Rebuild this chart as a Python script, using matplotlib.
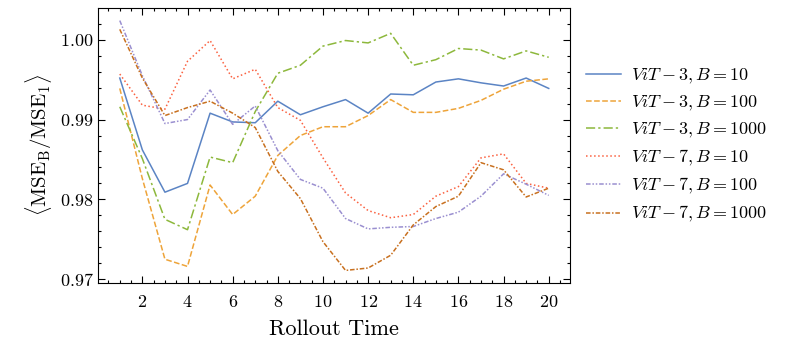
import matplotlib
matplotlib.use("Agg")
import matplotlib.pyplot as plt
from matplotlib.ticker import MultipleLocator, AutoMinorLocator

plt.rcParams['font.family'] = 'serif'
plt.rcParams['font.serif'] = ['cmr10']
plt.rcParams['mathtext.fontset'] = 'cm'
plt.rcParams['axes.formatter.use_mathtext'] = True
plt.rcParams['axes.unicode_minus'] = False

# rollout time steps
t = list(range(1, 21))

vit3_b10 = [0.9952, 0.9862, 0.9809, 0.9820, 0.9908, 0.9897, 0.9896, 0.9923, 0.9906, 0.9916,
            0.9925, 0.9908, 0.9932, 0.9931, 0.9947, 0.9951, 0.9946, 0.9942, 0.9952, 0.9939]
vit3_b100 = [0.9939, 0.9826, 0.9725, 0.9716, 0.9818, 0.9781, 0.9804, 0.9855, 0.9880, 0.9891,
             0.9891, 0.9905, 0.9925, 0.9909, 0.9909, 0.9914, 0.9924, 0.9938, 0.9948, 0.9951]
vit3_b1000 = [0.9916, 0.9851, 0.9775, 0.9762, 0.9853, 0.9846, 0.9910, 0.9958, 0.9968, 0.9992,
              0.9999, 0.9996, 1.0008, 0.9968, 0.9975, 0.9989, 0.9987, 0.9976, 0.9986, 0.9978]
vit7_b10 = [0.9957, 0.9918, 0.9913, 0.9973, 0.9999, 0.9951, 0.9963, 0.9915, 0.9899, 0.9852,
            0.9808, 0.9786, 0.9777, 0.9781, 0.9804, 0.9816, 0.9852, 0.9857, 0.9820, 0.9814]
vit7_b100 = [1.0024, 0.9955, 0.9895, 0.9900, 0.9937, 0.9894, 0.9917, 0.9861, 0.9825, 0.9814,
             0.9776, 0.9763, 0.9765, 0.9766, 0.9776, 0.9784, 0.9804, 0.9832, 0.9819, 0.9805]
vit7_b1000 = [1.0013, 0.9952, 0.9905, 0.9915, 0.9923, 0.9908, 0.9890, 0.9835, 0.9801, 0.9747,
              0.9711, 0.9714, 0.9730, 0.9768, 0.9791, 0.9804, 0.9846, 0.9837, 0.9803, 0.9814]

series = [
    (vit3_b10, r'$ViT-3, B=10$', '#5b84c4', '-'),
    (vit3_b100, r'$ViT-3, B=100$', '#eea43a', '--'),
    (vit3_b1000, r'$ViT-3, B=1000$', '#8db83c', (0, (6, 2, 1.5, 2))),
    (vit7_b10, r'$ViT-7, B=10$', '#fb6140', ':'),
    (vit7_b100, r'$ViT-7, B=100$', '#9a8fd0', (0, (3, 1.2, 1, 1.2, 1, 1.2))),
    (vit7_b1000, r'$ViT-7, B=1000$', '#c8701f', (0, (3, 1.2, 1, 1.2))),
]

fig = plt.figure(figsize=(7.93, 3.51), dpi=100)
ax = fig.add_axes([0.124, 0.194, 0.595, 0.783])

for vals, lab, col, ls in series:
    ax.plot(t, vals, color=col, linestyle=ls, linewidth=1.1, label=lab)

ax.set_xlabel('Rollout Time', fontsize=16, labelpad=7)
ax.set_ylabel(r'$\langle \mathrm{MSE_B}/\mathrm{MSE_1} \rangle$', fontsize=15)

ax.xaxis.set_major_locator(MultipleLocator(2))
ax.xaxis.set_minor_locator(AutoMinorLocator(4))
ax.yaxis.set_major_locator(MultipleLocator(0.01))
ax.yaxis.set_minor_locator(AutoMinorLocator(5))
ax.tick_params(which='both', direction='in', top=True, right=True, labelsize=13)
ax.tick_params(which='major', length=5, width=0.8)
ax.tick_params(which='minor', length=2.5, width=0.8)
ax.tick_params(axis='x', which='major', pad=8)
for s in ax.spines.values():
    s.set_linewidth(0.8)

ax.legend(loc='center left', bbox_to_anchor=(1.0, 0.5), frameon=False,
          fontsize=13, handlelength=1.9, handletextpad=0.55, labelspacing=0.45)

fig.savefig('out.png', dpi=100)
